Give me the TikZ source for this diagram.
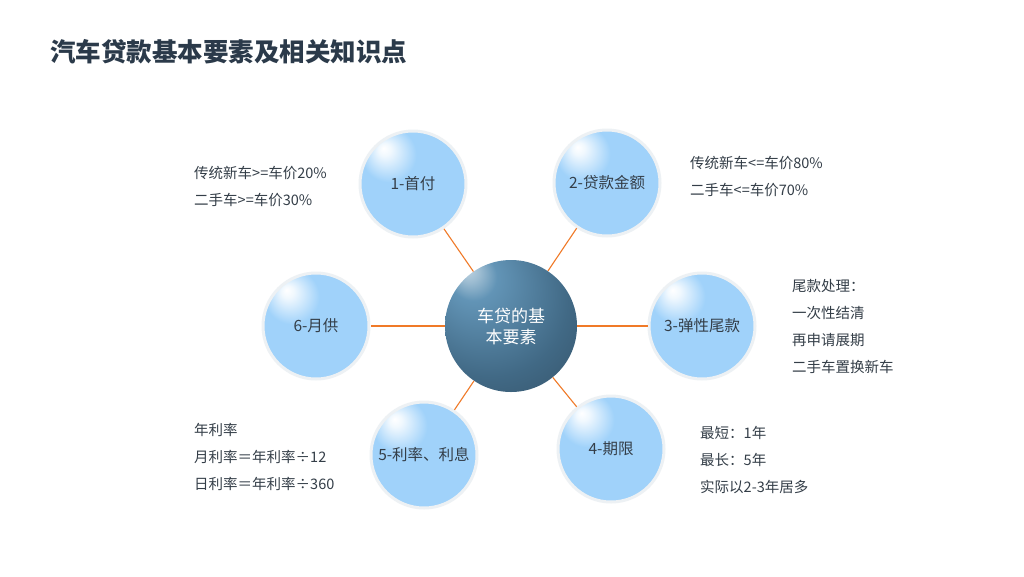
\documentclass[tikz,border=0pt]{standalone}
\usepackage{fontspec}
\setmainfont{Noto Sans CJK SC}
\definecolor{ballblue}{HTML}{A0D2FA}
\definecolor{ballblueB}{HTML}{93CAF5}
\definecolor{ringc}{HTML}{EDF1F4}
\definecolor{dhl}{HTML}{C2D6E3}
\definecolor{dA}{HTML}{6294B6}
\definecolor{dB}{HTML}{416985}
\definecolor{dC}{HTML}{2A3F50}
\definecolor{linec}{HTML}{F07A28}
\definecolor{txt}{HTML}{343E48}
\definecolor{titlec}{HTML}{2B3A4A}
\pgfdeclareradialshading{lightball}{\pgfpoint{-14bp}{17bp}}{color(0bp)=(white); color(3bp)=(white!85!ballblue); color(13bp)=(ballblue); color(45bp)=(ballblue); color(70bp)=(ballblueB)}
\pgfdeclareradialshading{darkball}{\pgfpoint{-17bp}{22bp}}{color(0bp)=(dhl); color(4bp)=(dhl!60!dA); color(9bp)=(dA); color(30bp)=(dB); color(58bp)=(dC)}
\tikzset{
  outerball/.style={circle, minimum size=106pt, inner sep=0pt, shading=lightball, draw=ringc, line width=3pt, text=txt, font=\fontsize{15.5}{18}\selectfont},
  centerball/.style={circle, minimum size=132pt, inner sep=0pt, shading=darkball, text=white, align=center, font=\fontsize{17}{21}\selectfont},
  conn/.style={draw=linec, line width=1.1pt},
  note/.style={anchor=west, align=left, text=txt, inner sep=0pt, font=\fontsize{14.5}{27}\selectfont},
}
\begin{document}
\begin{tikzpicture}[x=1pt,y=-1pt]
\useasboundingbox[fill=white] (0,0) rectangle (1024,576);
\node[anchor=west, inner sep=0pt, text=titlec, font=\fontsize{25.5}{30}\selectfont\bfseries] (title) at (50,52) {汽车贷款基本要素及相关知识点};
\node[centerball] (c) at (511,326) {车贷的基\\本要素};
\node[outerball] (n1) at (413,184) {1-首付};
\node[outerball] (n2) at (607,183) {2-贷款金额};
\node[outerball] (n3) at (702,326) {3-弹性尾款};
\node[outerball] (n4) at (611,449) {4-期限};
\node[outerball] (n5) at (424,455) {5-利率、利息};
\node[outerball] (n6) at (316,326) {6-月供};
\draw[conn] (c) -- (n1);
\draw[conn] (c) -- (n2);
\draw[conn] (c) -- (n4);
\draw[conn] (c) -- (n5);
\draw[conn] (c) -- (n6);
\draw[conn] (c) -- (n3);
\node[note] (t1) at (194,186.5) {传统新车>=车价20\%\\二手车>=车价30\%};
\node[note] (t2) at (690,176.5) {传统新车<=车价80\%\\二手车<=车价70\%};
\node[note] (t3) at (792,326) {尾款处理：\\一次性结清\\再申请展期\\二手车置换新车};
\node[note] (t5) at (194,457) {年利率\\月利率＝年利率÷12\\日利率＝年利率÷360};
\node[note] (t4) at (700,460) {最短：1年\\最长：5年\\实际以2-3年居多};
\end{tikzpicture}
\end{document}
